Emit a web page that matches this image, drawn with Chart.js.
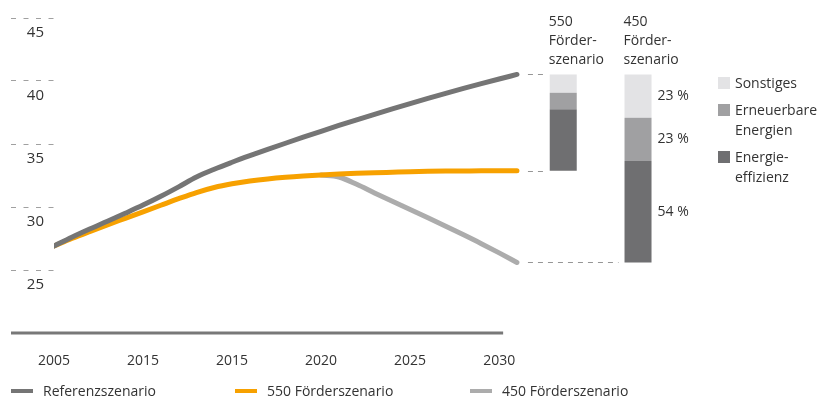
<!DOCTYPE html>
<html lang="de">
<head>
<meta charset="utf-8">
<title>Förderszenarien</title>
<script src="https://cdn.jsdelivr.net/npm/chart.js@4.4.1/dist/chart.umd.min.js"></script>
<style>
  body { margin: 0; background: #fff; font-family: 'Open Sans', sans-serif; color: #333; }
  #wrap { position: relative; width: 820px; height: 401px; }
  #chart { position: absolute; left: 0; top: 0; }
  .item { position: absolute; font-size: 14px; line-height: 20px; white-space: nowrap; }
  .swatch { position: absolute; }
</style>
</head>
<body>
<div id="wrap">
  <canvas id="chart" width="820" height="401"></canvas>
  <div id="legendBottom"></div>
  <div id="legendRight"></div>
</div>
<script>
(function() {

// ----- Daten
const years = [2005, 2006, 2007, 2008, 2009, 2010, 2011, 2012, 2013, 2014, 2015, 2016, 2017, 2018,
               2019, 2020, 2021, 2022, 2023, 2024, 2025, 2026, 2027, 2028, 2029, 2030, 2031];
const referenz = [26.9, 27.6, 28.25, 28.87, 29.5, 30.15, 30.85, 31.6, 32.38, 33.0, 33.55, 34.07, 34.57, 35.06,
                  35.54, 36.01, 36.47, 36.92, 37.36, 37.79, 38.21, 38.62, 39.02, 39.41, 39.79, 40.16, 40.52];
const foerder550 = [26.9, 27.5, 28.05, 28.58, 29.1, 29.62, 30.14, 30.66, 31.15, 31.55, 31.84, 32.06, 32.23, 32.36,
                    32.46, 32.54, 32.61, 32.67, 32.72, 32.76, 32.8, 32.83, 32.85, 32.86, 32.87, 32.87, 32.87];
const foerder450 = [null, null, null, null, null, null, null, null, null, null, null, null, null, null,
                    null, 32.54, 32.38, 31.8, 31.12, 30.46, 29.8, 29.14, 28.47, 27.79, 27.09, 26.36, 25.6];

const seriesNames = ['Referenzszenario', '550 Förderszenario', '450 Förderszenario'];

// Achsen
const tickYears = [2005, 2010, 2015, 2020, 2025, 2030];
const tickLabels = ['2005', '2015', '2015', '2020', '2025', '2030'];
const yTicks = [25, 30, 35, 40, 45];

// Beitraege zur Minderung 2030, von unten nach oben
const shareNames = ['Energieeffizienz', 'Erneuerbare Energien', 'Sonstiges'];
const shares550 = [64, 17, 19];
const shares450 = [54, 23, 23];
const barTitles = [['550', 'Förder-', 'szenario'], ['450', 'Förder-', 'szenario']];

// ----- Aussehen
const lineColors = ['rgb(117,117,117)', 'rgb(247,161,0)', 'rgb(172,172,172)'];
const segColors = ['rgb(111,111,113)', 'rgb(160,160,162)', 'rgb(227,227,229)'];
const textColor = '#333';
const barSlots = [2033.6, 2037.8];   // x-Lage der beiden Saeulen

Chart.defaults.font.family = "'Open Sans', sans-serif";
Chart.defaults.font.size = 14;
Chart.defaults.color = textColor;

function toPoints(arr) {
    return years.map((x, i) => ({ x: x, y: arr[i] }));
}

// Saeulensegmente aus Endwerten und Anteilen
const refEnd = referenz[referenz.length - 1];
function segments(scenEnd, shares) {
    const total = refEnd - scenEnd;
    let lo = scenEnd;
    return shares.map(s => {
        const hi = lo + total * s / 100;
        const seg = [lo, hi];
        lo = hi;
        return seg;
    });
}
const seg550 = segments(foerder550[foerder550.length - 1], shares550);
const seg450 = segments(foerder450[foerder450.length - 1], shares450);

const lineSets = [referenz, foerder550, foerder450].map((arr, i) => ({
    type: 'line',
    label: seriesNames[i],
    data: toPoints(arr),
    borderColor: lineColors[i],
    borderWidth: 5,
    borderCapStyle: 'round',
    borderJoinStyle: 'round',
    pointRadius: 0,
    cubicInterpolationMode: 'monotone',
    spanGaps: false,
    order: i
}));

const barSets = shareNames.map((name, i) => ({
    type: 'bar',
    label: name,
    data: [{ x: barSlots[0], y: seg550[i] }, { x: barSlots[1], y: seg450[i] }],
    backgroundColor: segColors[i],
    borderWidth: 0,
    grouped: false,
    maxBarThickness: 27,
    order: 5 + i
}));

// Grundlinie, Verbindungsstriche, Saeulentitel und Prozentwerte
const extras = {
    id: 'extras',
    afterDatasetsDraw(chart) {
        const ctx = chart.ctx;
        const xs = chart.scales.x, ys = chart.scales.y;
        const lastX = xs.getPixelForValue(years[years.length - 1]);
        const b550 = chart.getDatasetMeta(3).data[0];
        const b450 = chart.getDatasetMeta(3).data[1];
        ctx.save();

        // Grundlinie
        ctx.strokeStyle = 'rgb(120,120,120)';
        ctx.lineWidth = 3;
        ctx.beginPath();
        const by = ys.getPixelForValue(ys.min);
        ctx.moveTo(ys.left, by);
        ctx.lineTo(xs.getPixelForValue(tickYears[tickYears.length - 1]) + 4, by);
        ctx.stroke();

        // gestrichelte Verbindungen zu den Saeulen
        ctx.strokeStyle = 'rgb(150,150,150)';
        ctx.lineWidth = 1;
        ctx.setLineDash([5, 5]);
        const links = [
            [refEnd, b550],
            [foerder550[foerder550.length - 1], b550],
            [foerder450[foerder450.length - 1], b450]
        ];
        links.forEach(([v, bar]) => {
            const y = Math.round(ys.getPixelForValue(v)) + 0.5;
            ctx.beginPath();
            ctx.moveTo(lastX + 11, y);
            ctx.lineTo(bar.x - bar.width / 2 - 6, y);
            ctx.stroke();
        });
        ctx.setLineDash([]);

        // Saeulentitel
        ctx.fillStyle = textColor;
        ctx.font = "14px 'Open Sans', sans-serif";
        ctx.textBaseline = 'middle';
        ctx.textAlign = 'left';
        [b550, b450].forEach((bar, k) => {
            barTitles[k].forEach((t, j) => {
                ctx.fillText(t, bar.x - bar.width / 2 - 1, chart.chartArea.top + 4 + j * 19);
            });
        });

        // Prozentwerte neben der 450er-Saeule
        shareNames.forEach((n, i) => {
            const el = chart.getDatasetMeta(3 + i).data[1];
            ctx.fillText(shares450[i] + ' %', el.x + el.width / 2 + 6, (el.y + el.base) / 2);
        });
        ctx.restore();
    }
};

new Chart(document.getElementById('chart'), {
    type: 'line',
    data: { datasets: lineSets.concat(barSets) },
    options: {
        responsive: false,
        animation: false,
        events: [],
        layout: { padding: { left: 11, top: 18, right: 125, bottom: 0 } },
        plugins: { legend: { display: false }, tooltip: { enabled: false } },
        scales: {
            x: {
                type: 'linear',
                min: 2005,
                max: 2041,
                offset: false,
                grid: { display: false, drawTicks: false },
                border: { display: false },
                afterBuildTicks: (axis) => { axis.ticks = tickYears.map(v => ({ value: v })); },
                afterFit: (axis) => { axis.height = 68; },
                ticks: {
                    autoSkip: false,
                    maxRotation: 0,
                    padding: 20,
                    color: textColor,
                    callback: (v, i) => tickLabels[i]
                }
            },
            y: {
                min: 20,
                max: 45,
                grid: {
                    drawOnChartArea: false,
                    drawTicks: true,
                    tickLength: 43,
                    tickColor: 'rgb(160,160,160)',
                    tickWidth: 1,
                    tickBorderDash: [5, 7.5]
                },
                border: { display: false },
                afterBuildTicks: (axis) => { axis.ticks = yTicks.map(v => ({ value: v })); },
                afterFit: (axis) => { axis.width = 43; },
                ticks: {
                    padding: -33,
                    labelOffset: 15,
                    font: { size: 15 },
                    color: textColor
                }
            }
        }
    },
    plugins: [extras]
});

// ----- Legende unten
const lb = document.getElementById('legendBottom');
const lbLeft = [11, 235, 470];
seriesNames.forEach((name, i) => {
    const sw = document.createElement('div');
    sw.className = 'swatch';
    sw.style.cssText = 'left:' + lbLeft[i] + 'px;top:389px;width:22px;height:4px;background:' + lineColors[i];
    lb.appendChild(sw);
    const tx = document.createElement('div');
    tx.className = 'item';
    tx.style.cssText = 'left:' + (lbLeft[i] + 32) + 'px;top:381px;';
    tx.textContent = name;
    lb.appendChild(tx);
});

// ----- Legende rechts (oben nach unten)
const lr = document.getElementById('legendRight');
const rightLines = [['Sonstiges'], ['Erneuerbare', 'Energien'], ['Energie-', 'effizienz']];
const rightTop = [73, 100, 147];
rightLines.forEach((lines, k) => {
    const colorIdx = 2 - k;
    const sw = document.createElement('div');
    sw.className = 'swatch';
    sw.style.cssText = 'left:718px;top:' + (rightTop[k] + 4) + 'px;width:12px;height:12px;background:' + segColors[colorIdx];
    lr.appendChild(sw);
    const tx = document.createElement('div');
    tx.className = 'item';
    tx.style.cssText = 'left:735px;top:' + rightTop[k] + 'px;';
    tx.innerHTML = lines.join('<br>');
    lr.appendChild(tx);
});

})();
</script>
</body>
</html>
